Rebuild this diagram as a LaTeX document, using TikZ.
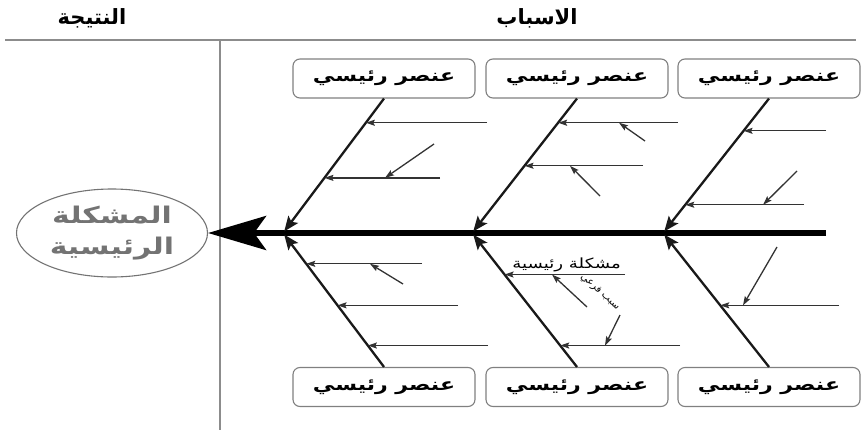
\documentclass[tikz,border=0pt]{standalone}
\usepackage{fontspec}
\newfontfamily\arabicfont[Script=Arabic]{DejaVu Sans}
\newfontfamily\arabicwide[Script=Arabic,FakeStretch=1.3]{DejaVu Sans}
\TeXXeTstate=1
\usetikzlibrary{arrows.meta,calc,shapes.geometric}
\newcommand{\artext}[1]{{\arabicfont\beginR #1\endR}}
\newcommand{\arwide}[1]{{\arabicwide\beginR #1\endR}}
\begin{document}
\begin{tikzpicture}[x=1pt,y=-1pt,
  rule/.style={draw=black!45,line width=1.5pt},
  element/.style={draw=black!50,line width=1.1pt,rounded corners=7pt,minimum width=182pt,minimum height=39pt,inner sep=0pt,font=\fontsize{17}{20}\selectfont\bfseries},
  result/.style={ellipse,draw=black!55,line width=1.1pt,minimum width=191pt,minimum height=88pt,inner sep=0pt,align=center,text=black!55,font=\fontsize{23}{31}\selectfont\bfseries},
  heading/.style={font=\fontsize{21}{24}\selectfont\bfseries},
  spine/.style={line width=5.5pt,-{Stealth[length=58pt,width=34pt,inset=12pt]}},
  bone/.style={line width=2.3pt,black!90,-{Stealth[length=15pt,width=12pt,inset=3pt]}},
  twig/.style={line width=1.3pt,black!80,-{Stealth[length=9pt,width=6pt,inset=1.5pt]}}]
   \useasboundingbox (0,0) rectangle (862,439);
   \node[heading] (hres) at (92,18) {\artext{النتيجة}};
   \node[heading] (hcause) at (537,18) {\artext{الاسباب}};
   \coordinate (rl) at (5,40);
   \coordinate (rr) at (856,40);
   \coordinate (vt) at (220,40);
   \coordinate (vb) at (220,430);
   \draw[rule] (rl) -- (rr);
   \draw[rule] (vt) -- (vb);
   \node[result] (res) at (112,233) {\arwide{المشكلة}\\\arwide{الرئيسية}};
   \coordinate (tail) at (826,233);
   \draw[spine] (tail) -- (res.east);
   \foreach \n/\x/\y in
     {t1/384/78.5, t2/577/78.5, t3/769/78.5,
      b1/384/387, b2/577/387, b3/769/387}
     \node[element] (\n) at (\x,\y) {\arwide{عنصر رئيسي}};
   \foreach \j/\x in {j1/283, j2/472, j3/663}
     \coordinate (\j) at (\x,233);
   \foreach \a/\j in
     {t1.south/j1, t2.south/j2, t3.south/j3,
      b1.north/j1, b2.north/j2, b3.north/j3}
     \draw[bone,shorten >=2pt] (\a) -- (\j);
   \foreach \a/\j/\f/\x [count=\i] in
     {t1.south/j1/.18/487, t1.south/j1/.59/440,
      t2.south/j2/.18/678, t2.south/j2/.50/643,
      t3.south/j3/.24/826, t3.south/j3/.79/804,
      b1.north/j1/.77/422, b1.north/j1/.46/458, b1.north/j1/.16/488,
      b2.north/j2/.69/625, b2.north/j2/.16/680,
      b3.north/j3/.46/839}
   {
     \coordinate (p\i) at ($(\a)!\f!(\j)$);
     \coordinate (q\i) at (\x,0 |- p\i);
     \draw[twig] (q\i) -- (p\i);
   }
   \foreach \sx/\sy/\ex/\k [count=\i] in
     {434/144/385/2, 645/141/619/3, 600/196/570/4, 797/171/763/6,
      403/284/370/7, 587/307/552/10, 620/315/605/11, 777/247/743/12}
   {
     \coordinate (d\i) at (\sx,\sy);
     \coordinate (e\i) at (\ex,0 |- p\k);
     \draw[twig] (d\i) -- (e\i);
   }
   \node[anchor=south east,inner sep=1pt,font=\fontsize{14}{16}\selectfont] (mainlbl) at ($(q10)+(-3,-1)$) {\arwide{مشكلة رئيسية}};
   \node[rotate=-42,inner sep=0pt,font=\fontsize{10}{12}\selectfont] (sublbl) at (600,292) {\artext{سبب فرعي}};
\end{tikzpicture}
\end{document}
